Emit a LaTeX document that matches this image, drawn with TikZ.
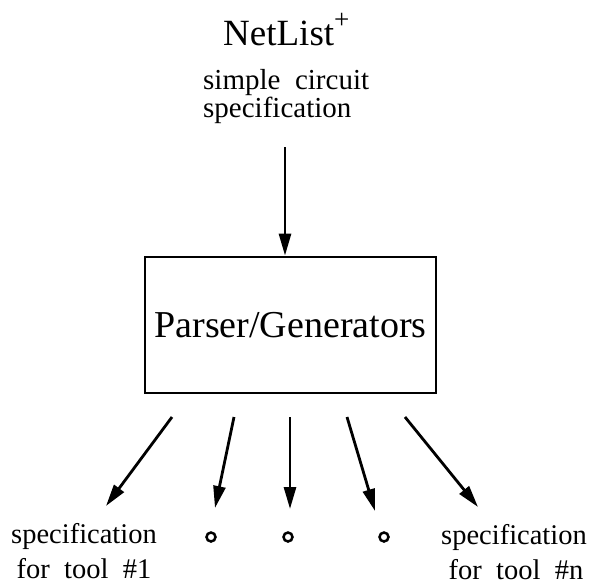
\documentclass[tikz,border=0pt]{standalone}
\usepackage{fontspec}
\setmainfont{Liberation Serif}
\usetikzlibrary{arrows.meta}
\tikzset{
  big/.style={font=\fontsize{37}{40}\selectfont, inner sep=0pt},
  small/.style={font=\fontsize{29}{28}\selectfont, inner sep=0pt, align=left},
  smallc/.style={font=\fontsize{28.5}{35}\selectfont, inner sep=0pt, align=center},
  flow/.style={line width=2.8pt, -{Triangle[length=22pt,width=12pt]}},
  frame/.style={draw, line width=2.8pt, minimum width=291pt, minimum height=136pt, inner sep=0pt},
  dot/.style={circle, draw, line width=2.5pt, minimum size=9pt, inner sep=0pt}
}
\begin{document}
\begin{tikzpicture}[x=1pt,y=1pt]
\useasboundingbox (0,0) rectangle (589,-584);
% top label
\node[big, anchor=base west] (net) at (223,-45) {NetList\raisebox{0.45em}{\fontsize{27}{27}\selectfont +}};
\node[small, anchor=base west] (desc) at (203,-117) {simple\ \ circuit\\specification};
% box
\node[frame, big, font=\fontsize{38}{40}\selectfont] (box) at (290.5,-325) {Parser/Generators};
% input arrow
\coordinate (in) at (285,-147);
\draw[flow] (in) -- (in |- box.north);
% output arrows
\coordinate (s1) at (172,-417); \coordinate (e1) at (106,-506);
\coordinate (s2) at (234,-417); \coordinate (e2) at (215,-508);
\coordinate (s3) at (290,-417); \coordinate (e3) at (290,-509);
\coordinate (s4) at (347,-417); \coordinate (e4) at (375,-511);
\coordinate (s5) at (405,-417); \coordinate (e5) at (478,-507);
\foreach \i in {1,...,5} { \draw[flow] (s\i) -- (e\i); }
% outputs
\node[smallc, anchor=base] (out1) at (84,-578) {specification\\for\ \ tool\ \ \#1};
\node[smallc, anchor=base] (outn) at (514,-579) {specification\\\hspace*{4pt}for\ \ tool\ \ \#n};
\node[dot] (d1) at (211,-537) {};
\node[dot] (d2) at (288,-537) {};
\node[dot] (d3) at (384,-537) {};
\end{tikzpicture}
\end{document}
